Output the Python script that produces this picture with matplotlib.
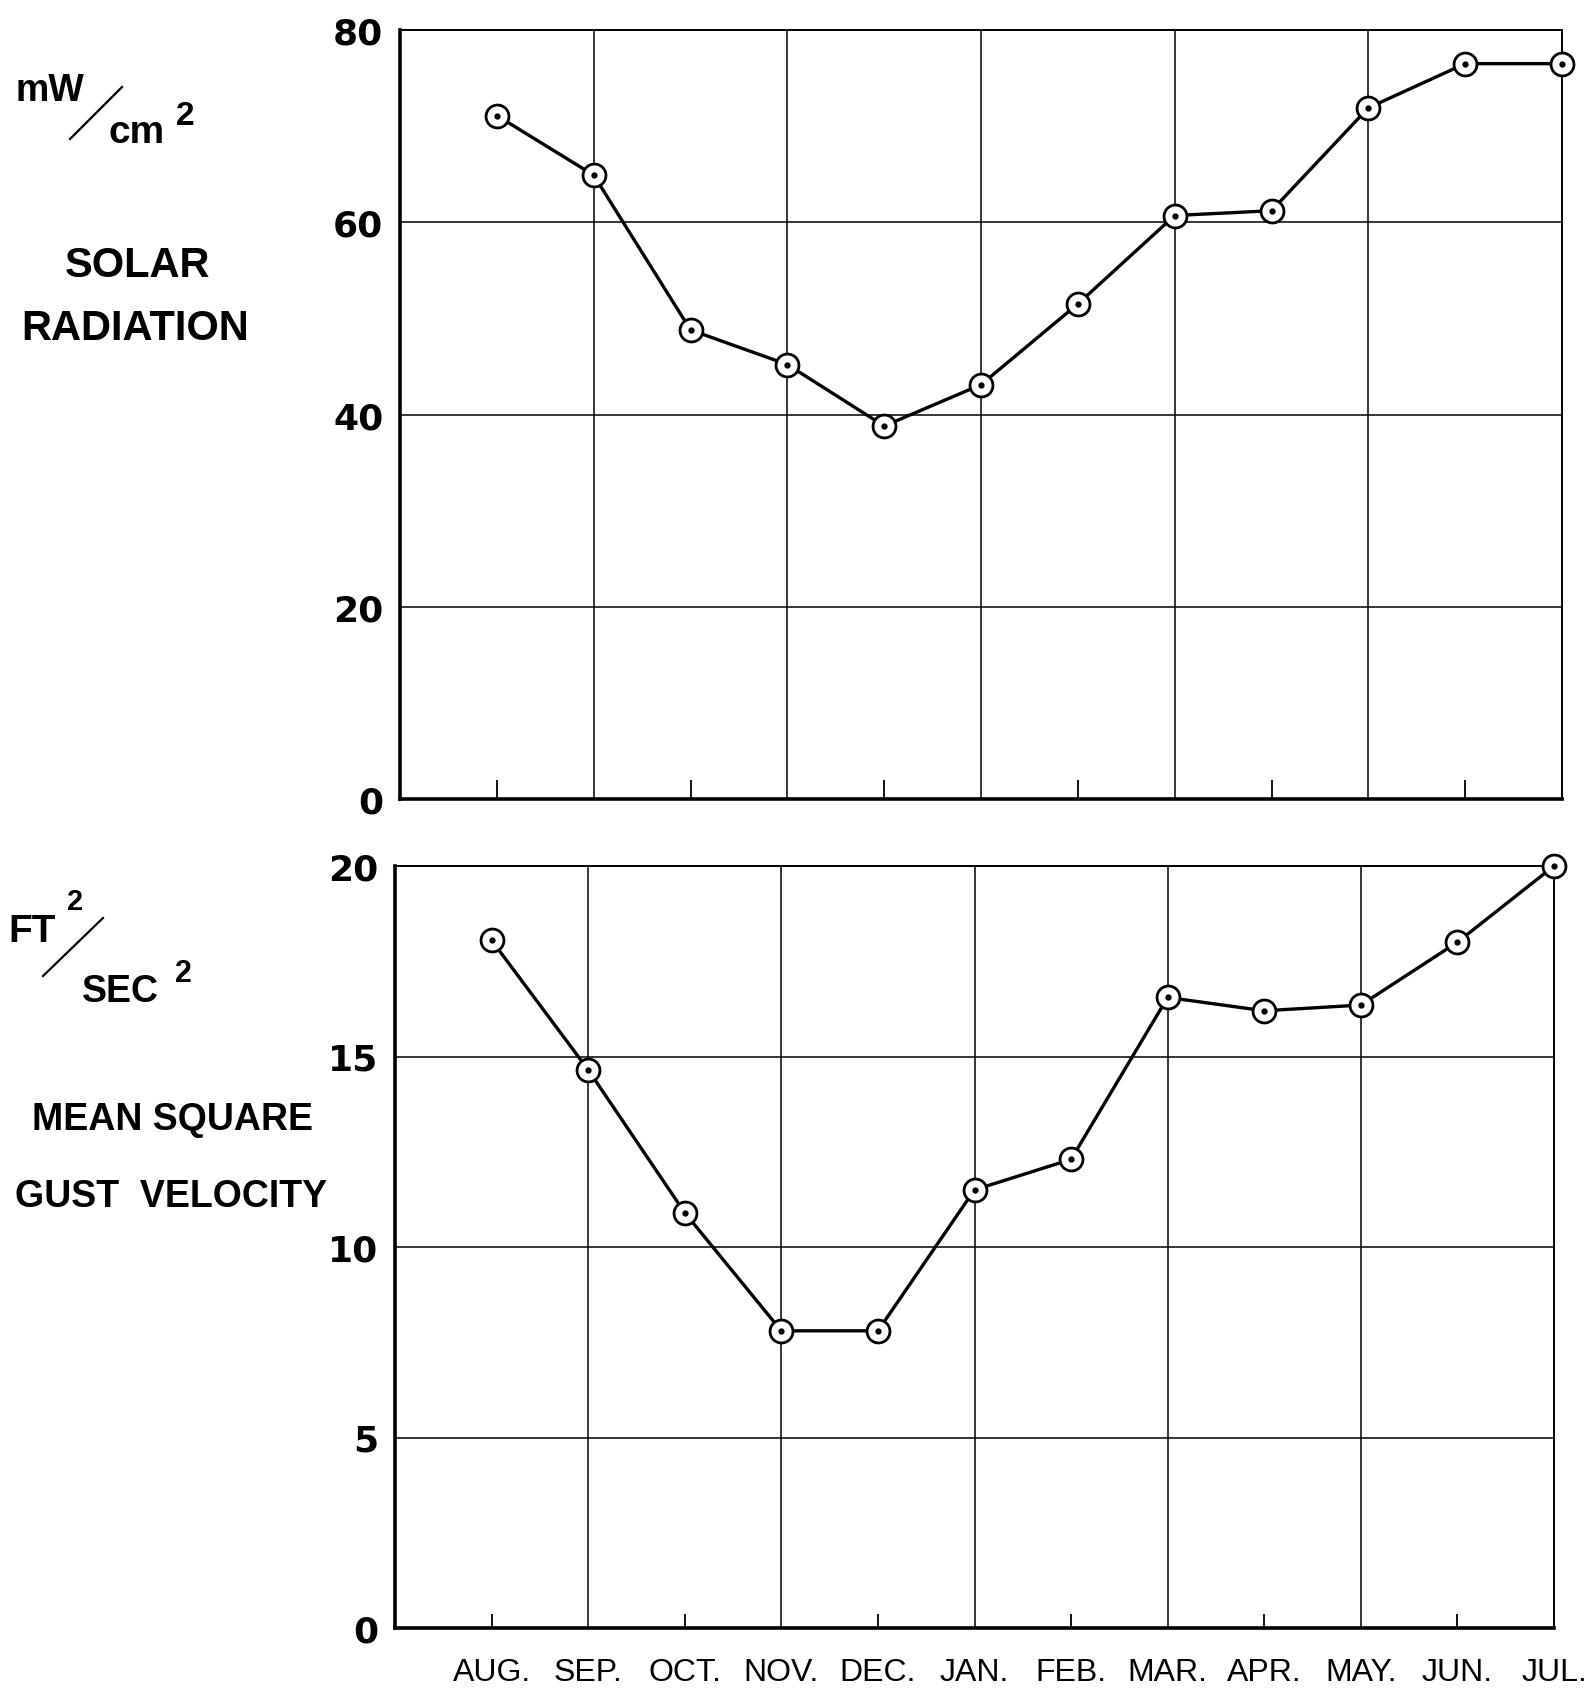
import matplotlib
matplotlib.use("Agg")
import matplotlib.pyplot as plt
from matplotlib.lines import Line2D

# --- data ---
months = ['AUG.', 'SEP.', 'OCT.', 'NOV.', 'DEC.', 'JAN.', 'FEB.', 'MAR.', 'APR.', 'MAY.', 'JUN.', 'JUL.']
solar = [71.1, 64.9, 48.8, 45.2, 38.8, 43.1, 51.5, 60.7, 61.2, 71.9, 76.5, 76.5]
gust = [18.05, 14.65, 10.9, 7.8, 7.8, 11.5, 12.3, 16.55, 16.2, 16.35, 18.0, 20.0]
solar_ticks = [0, 20, 40, 60, 80]
gust_ticks = [0, 5, 10, 15, 20]

W, H = 1587, 1690
fam = ['Liberation Sans', 'DejaVu Sans']
plt.rcParams['font.family'] = fam

fig = plt.figure(figsize=(W / 100, H / 100), dpi=100)


def px_axes(left, top, right, bottom):
    return fig.add_axes([left / W, 1 - bottom / H, (right - left) / W, (bottom - top) / H])


def draw_panel(ax, values, yticks, tick_len, show_labels):
    x = list(range(len(values)))
    ax.plot(x, values, color='black', lw=2.4, zorder=3, clip_on=False)
    ax.plot(x, values, 'o', ms=16.5, mfc='white', mec='black', mew=2.0, zorder=4, clip_on=False)
    ax.plot(x, values, 'o', ms=3.5, color='black', zorder=5, clip_on=False)

    ax.set_xlim(-1, 11)
    ax.set_ylim(yticks[0], yticks[-1])

    # vertical grid at odd months, horizontal at inner y ticks
    for xv in range(1, 11, 2):
        ax.axvline(xv, color='black', lw=1.1, zorder=1)
    for yv in yticks[1:-1]:
        ax.axhline(yv, color='black', lw=1.1, zorder=1)

    ax.set_yticks(yticks)
    ax.set_yticklabels([str(v) for v in yticks], family='DejaVu Sans',
                       fontsize=26, fontweight='bold')
    ax.tick_params(axis='y', length=0, pad=12)

    ax.set_xticks(range(len(months)))
    if show_labels:
        ax.set_xticklabels(months, fontsize=23)
    else:
        ax.set_xticklabels([])
    ax.tick_params(axis='x', direction='in', length=tick_len, width=1.3, pad=21)
    for i, t in enumerate(ax.xaxis.get_major_ticks()):
        if i % 2 == 1:
            t.tick1line.set_visible(False)
        t.tick2line.set_visible(False)

    for side in ['left', 'bottom']:
        ax.spines[side].set_linewidth(2.6)
    for side in ['top', 'right']:
        ax.spines[side].set_linewidth(1.4)


ax1 = px_axes(400, 31, 1562, 800)
draw_panel(ax1, solar, solar_ticks, 14, False)

ax2 = px_axes(395, 867, 1554, 1629)
draw_panel(ax2, gust, gust_ticks, 10, True)


def ftext(x, y, s, size, ha='left'):
    fig.text(x / W, 1 - y / H, s, fontsize=size, ha=ha, va='baseline',
             family=fam, fontweight='bold')


def slash(x0, y0, x1, y1):
    fig.add_artist(Line2D([x0 / W, x1 / W], [1 - y0 / H, 1 - y1 / H], color='black', lw=1.6))


# top unit and label
ftext(15, 101, 'mW', 27)
slash(70, 140, 122, 88)
ftext(108, 143, 'cm', 28)
ftext(176, 125, '2', 24)
ftext(138, 277, 'SOLAR', 30, ha='center')
ftext(135, 340, 'RADIATION', 30, ha='center')

# bottom unit and label
ftext(8, 942, 'FT', 28)
ftext(67, 910, '2', 21)
slash(43, 977, 103, 919)
ftext(82, 1002, 'SEC', 27)
ftext(175, 982, '2', 22)
ftext(173, 1130, 'MEAN SQUARE', 27, ha='center')
ftext(171, 1207, 'GUST  VELOCITY', 27, ha='center')

fig.savefig('out.png', dpi=100)
